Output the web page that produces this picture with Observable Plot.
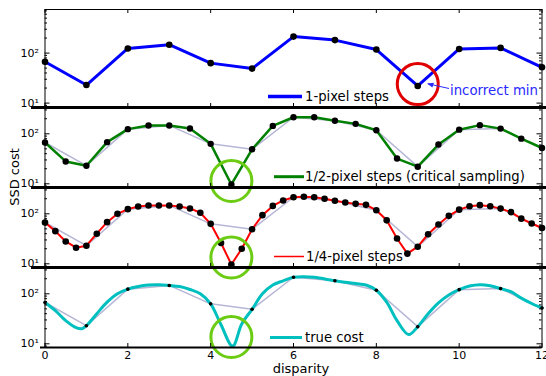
<!DOCTYPE html>
<html><head><meta charset="utf-8">
<script src="https://cdn.jsdelivr.net/npm/d3@7"></script>
<script src="https://cdn.jsdelivr.net/npm/@observablehq/plot@0.6"></script>
<style>
body{margin:0;background:#fff;}
#chart{position:relative;width:546px;height:376px;overflow:hidden;background:#fff;font-family:"DejaVu Sans",sans-serif;}
#chart svg{position:absolute;left:0;top:0;}
</style></head><body><div id="chart"></div>
<script>
// ---- data ----
const xTicks = [0, 2, 4, 6, 8, 10, 12];
const yMajor = [10, 100];
const yTickLabels = ["10¹", "10²"];

const step1X = [0,1,2,3,4,5,6,7,8,9,10,11,12];
const step1Cost = [67,23,124,147,63,49,214,182,118,22,121,127,52];

const step2X = [0,0.5,1,1.5,2,2.5,3,3.5,4,4.5,5,5.5,6,6.5,7,7.5,8,8.5,9,9.5,10,10.5,11,11.5,12];
const step2Cost = [67,28,23,68,124,147,147,128,63,9.7,49,144,214,214,182,158,118,32,22,61,121,149,127,80,52];

const step4X = [0,0.25,0.5,0.75,1,1.25,1.5,1.75,2,2.25,2.5,2.75,3,3.25,3.5,3.75,4,4.25,4.5,4.75,5,5.25,5.5,5.75,6,6.25,6.5,6.75,7,7.25,7.5,7.75,8,8.25,8.5,8.75,9,9.25,9.5,9.75,10,10.25,10.5,10.75,11,11.25,11.5,11.75,12];
const step4Cost = [67,45,28,21,23,40,68,100,124,140,147,147,147,140,128,105,63,26,9.7,20,49,94,144,185,214,219,214,200,182,168,158,151,118,74,32,16,22,39,61,91,121,142,149,142,127,108,80,64,52];

const trueX = [0,0.25,0.5,0.75,0.89,1,1.25,1.5,1.75,2,2.25,2.5,2.75,3,3.25,3.5,3.75,4,4.25,4.53,4.75,5,5.25,5.5,5.75,6,6.25,6.5,7,7.25,7.5,7.75,8,8.25,8.5,8.78,9,9.25,9.5,9.75,10,10.25,10.5,10.75,11,11.25,11.5,11.75,12];
const trueCost = [67,46,29,21,20,23,40,68,100,124,140,150,152,147,140,122,100,63,24,9.0,25,49,100,150,182,214,220,214,182,170,160,150,118,68,29,15.3,22,40,66,95,121,143,152,145,127,110,82,64,52];

// highlight circles (data coordinates of their centres)
const circle1 = [{x: 9, y: 24}];
const circle2 = [{x: 4.5, y: 11.4}];
const circle3 = [{x: 4.5, y: 13.4}];
const circle4 = [{x: 4.5, y: 13.7}];

const legendLabels = ["1-pixel steps", "1/2-pixel steps (critical sampling)", "1/4-pixel steps", "true cost"];
const seriesColors = ["#0000ff", "#008000", "#ff0000", "#00bfbf"];

// ---- layout ----
const W = 546, H = 376;
const XL = 44.5, XR = 541.5;
const frameW = XR - XL;

function minorTicks(lo, hi) {
  const t = [];
  for (let e = 0; e < 4; e++) for (let m = 2; m < 10; m++) { const v = m * 10 ** e; if (v > lo && v < hi) t.push(v); }
  return t;
}

function panel({top, bottom, yDomain, marks, last, sepLeft, sepW, topTicks}) {
  const frameH = bottom - top;
  const minors = minorTicks(yDomain[0], yDomain[1]);
  return Plot.plot({
    width: W, height: H,
    marginLeft: XL, marginRight: W - XR, marginTop: top, marginBottom: H - bottom,
    style: {background: "none", overflow: "visible", fontFamily: "DejaVu Sans, sans-serif", fontSize: "11px", color: "#000"},
    x: {domain: [0, 12], axis: last ? "bottom" : null, ticks: xTicks, tickSize: 0, tickPadding: 4, label: null},
    y: {type: "log", domain: yDomain, ticks: yMajor, tickFormat: d => yTickLabels[yMajor.indexOf(d)], tickSize: 0, tickPadding: 6, label: null},
    marks: [
      ...marks,
      Plot.frame({stroke: "#000", strokeWidth: 1}),
      Plot.ruleY(yMajor, {insetRight: frameW - 5, stroke: "#000"}),
      Plot.ruleY(yMajor, {insetLeft: frameW - 5, stroke: "#000"}),
      Plot.ruleY(minors, {insetRight: frameW - 2.5, stroke: "#000"}),
      Plot.ruleY(minors, {insetLeft: frameW - 2.5, stroke: "#000"}),
      Plot.ruleX(xTicks, {insetTop: frameH - 4, stroke: "#000"}),
      ...(topTicks ? [Plot.ruleX(xTicks, {insetBottom: frameH - 4, stroke: "#000"})] : []),
      Plot.ruleY([yDomain[0]], {insetLeft: -sepLeft, insetRight: last ? 0 : -(W - XR), strokeWidth: sepW, stroke: "#000"})
    ]
  });
}

const dom1 = [10 ** 0.912, 10 ** 2.872];
const dom2 = [10 ** 0.926, 10 ** 2.526];

const s1 = step1X.map((x, i) => ({x, y: step1Cost[i]}));
const s2 = step2X.map((x, i) => ({x, y: step2Cost[i]}));
const s4 = step4X.map((x, i) => ({x, y: step4Cost[i]}));
const tc = trueX.map((x, i) => ({x, y: trueCost[i]}));
const gray = "#b6b6d6";

const p1 = panel({top: 9, bottom: 107, yDomain: dom1, sepLeft: XL - 31, sepW: 3, topTicks: true, marks: [
  Plot.line(s1, {x: "x", y: "y", stroke: seriesColors[0], strokeWidth: 3}),
  Plot.dot(s1, {x: "x", y: "y", r: 3.3, fill: "#000"}),
  Plot.dot(circle1, {x: "x", y: "y", r: 20.5, stroke: "#e00000", strokeWidth: 3, fill: "none"})
]});
const p2 = panel({top: 107, bottom: 187, yDomain: dom2, sepLeft: XL - 31, sepW: 3, marks: [
  Plot.line(s1, {x: "x", y: "y", stroke: gray, strokeWidth: 1.5}),
  Plot.line(s2, {x: "x", y: "y", stroke: seriesColors[1], strokeWidth: 2.5}),
  Plot.dot(s2, {x: "x", y: "y", r: 3.2, fill: "#000"}),
  Plot.dot(circle2, {x: "x", y: "y", r: 20.5, stroke: "#6ccc14", strokeWidth: 3, fill: "none"})
]});
const p3 = panel({top: 187, bottom: 267, yDomain: dom2, sepLeft: XL - 31, sepW: 3, marks: [
  Plot.line(s1, {x: "x", y: "y", stroke: gray, strokeWidth: 1.5}),
  Plot.line(s4, {x: "x", y: "y", stroke: seriesColors[2], strokeWidth: 2}),
  Plot.dot(s4, {x: "x", y: "y", r: 3.3, fill: "#000"}),
  Plot.dot(circle3, {x: "x", y: "y", r: 20.5, stroke: "#6ccc14", strokeWidth: 3, fill: "none"})
]});
const p4 = panel({top: 267, bottom: 347, yDomain: dom2, last: true, sepLeft: XL - 40, sepW: 2, marks: [
  Plot.line(s1, {x: "x", y: "y", stroke: gray, strokeWidth: 1.5}),
  Plot.line(tc, {x: "x", y: "y", stroke: seriesColors[3], strokeWidth: 3, curve: "catmull-rom"}),
  Plot.dot(s1, {x: "x", y: "y", r: 1.8, fill: "#000"}),
  Plot.dot(circle4, {x: "x", y: "y", r: 20.5, stroke: "#6ccc14", strokeWidth: 3, fill: "none"})
]});

const chart = document.getElementById("chart");
[p1, p2, p3, p4].forEach(p => chart.appendChild(p));

// legends and annotations
const legends = [
  {svg: p1, x1: 268, x2: 302, y: 96.5, w: 3.5, tx: 305},
  {svg: p2, x1: 274, x2: 304, y: 176.7, w: 3, tx: 305},
  {svg: p3, x1: 274, x2: 304, y: 256.5, w: 1.5, tx: 306},
  {svg: p4, x1: 270, x2: 302, y: 337.5, w: 3, tx: 305}
];
legends.forEach((l, i) => {
  const g = d3.select(l.svg).append("g").attr("text-anchor", "start");
  g.append("line").attr("x1", l.x1).attr("x2", l.x2).attr("y1", l.y).attr("y2", l.y)
    .attr("stroke", seriesColors[i]).attr("stroke-width", l.w);
  g.append("text").attr("x", l.tx).attr("y", l.y).attr("dy", "0.35em")
    .attr("font-size", 13.2).attr("fill", "#000").text(legendLabels[i]);
});

const a = d3.select(p1).append("g").attr("text-anchor", "start");
a.append("text").attr("x", 450).attr("y", 90.7).attr("dy", "0.35em").attr("font-size", 13.3)
  .attr("fill", "#2a2aff").text("incorrect min");
a.append("line").attr("x1", 449).attr("y1", 88.5).attr("x2", 428).attr("y2", 83.8)
  .attr("stroke", "#2a2aff").attr("stroke-width", 1);
a.append("path").attr("d", "M427,83.5 L434,82.8 L432.4,87.6 Z").attr("fill", "#2a2aff");

const lab = d3.select(p4).append("g").attr("font-size", 13).attr("fill", "#000");
lab.append("text").attr("transform", "translate(14,177) rotate(-90)").attr("text-anchor", "middle")
  .attr("dy", "0.35em").text("SSD cost");
lab.append("text").attr("x", 301).attr("y", 368.5).attr("text-anchor", "middle")
  .attr("dy", "0.35em").text("disparity");
</script></body></html>
